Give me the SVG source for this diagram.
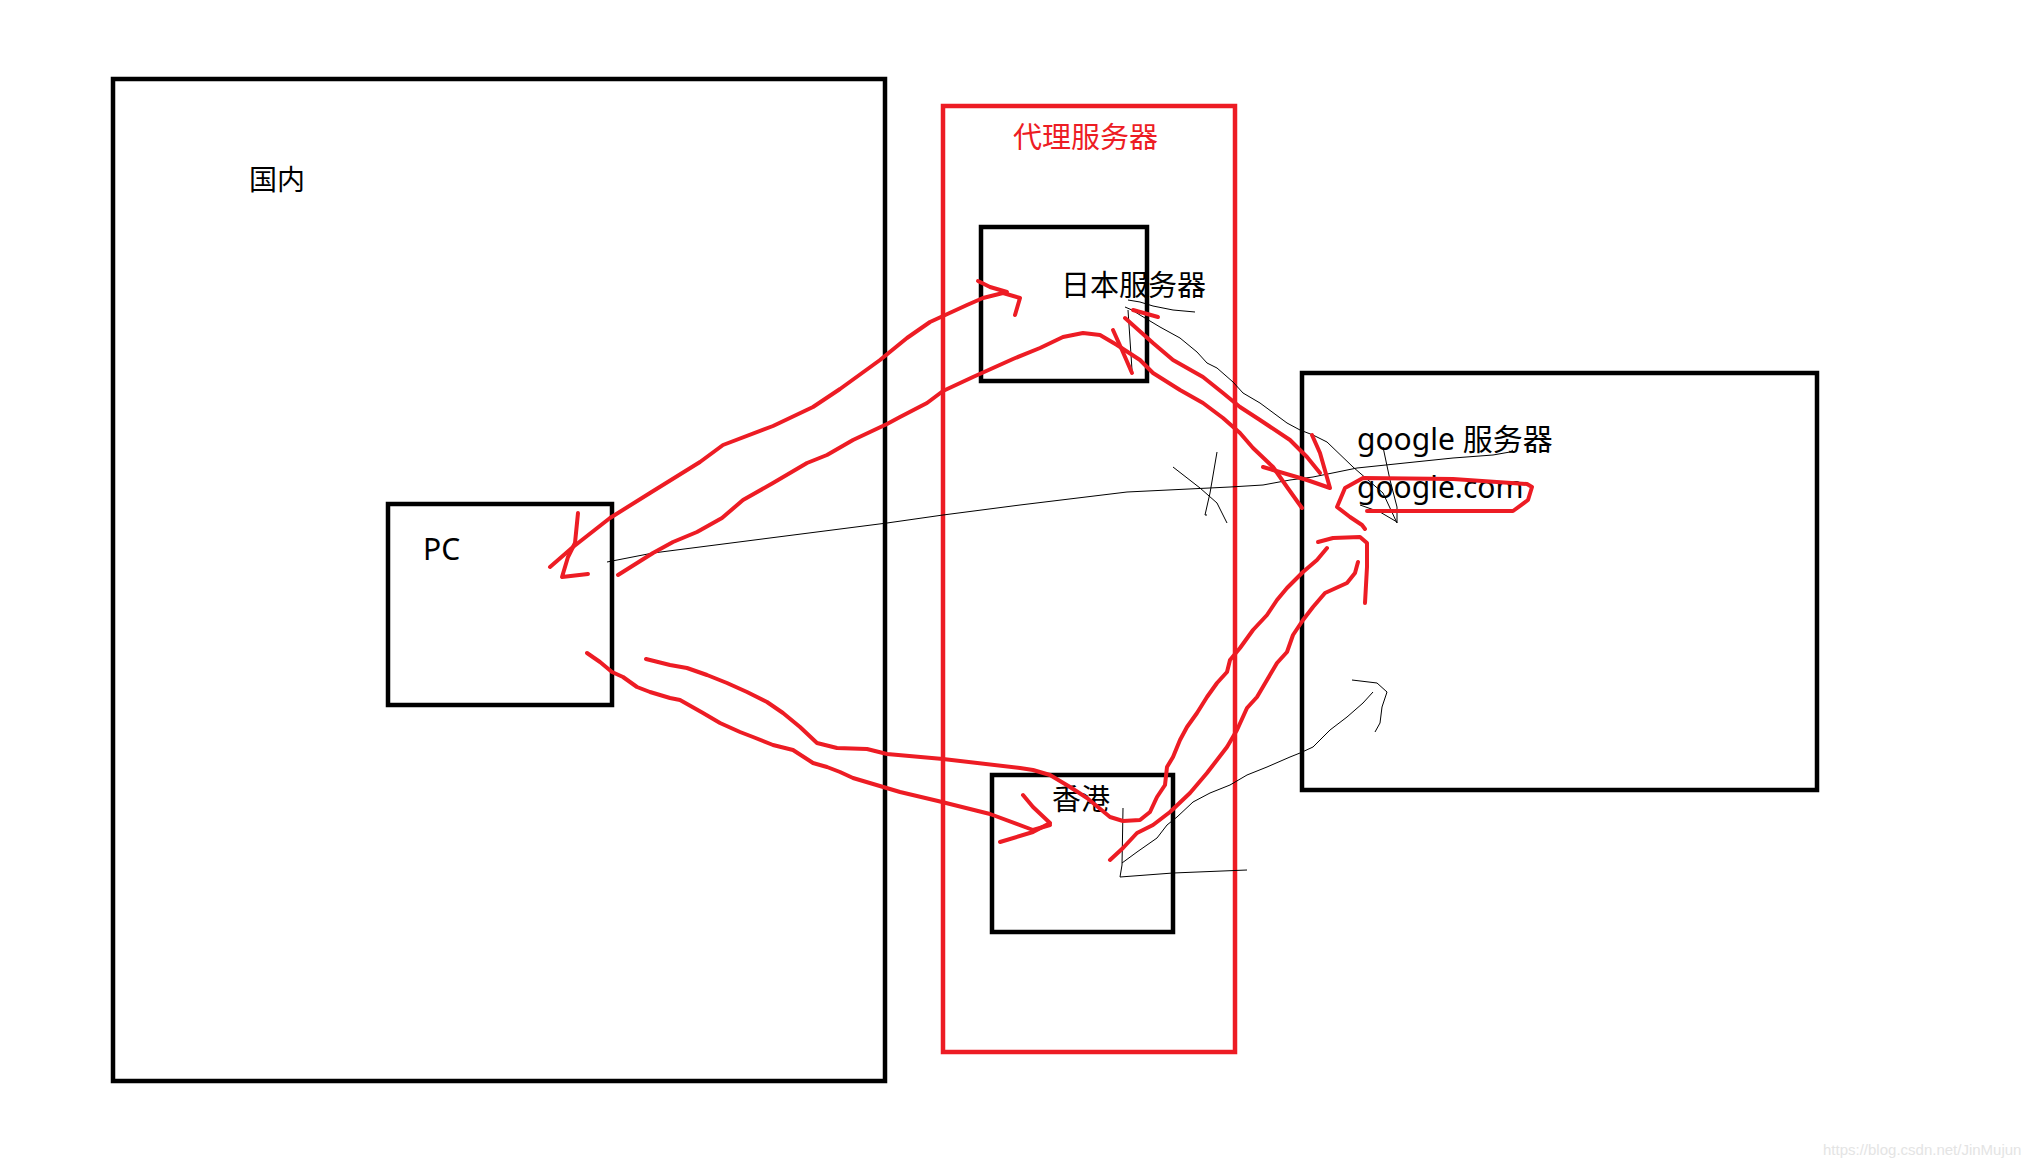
<svg xmlns="http://www.w3.org/2000/svg" width="2042" height="1166" viewBox="0 0 2042 1166">
<style>
.box{fill:none;stroke:#000;stroke-width:4.5}
.pbox{fill:none;stroke:#ED1C24;stroke-width:4.5}
.t{font-family:"Noto Sans","Noto Sans CJK SC",sans-serif;fill:#000}
.r{fill:none;stroke:#ED1C24;stroke-width:4;stroke-linejoin:round;stroke-linecap:round}
.k{fill:none;stroke:#000;stroke-width:1;stroke-linejoin:round}
</style>
<rect width="2042" height="1166" fill="#fff"/>
<g id="node-domestic">
<rect class="box" x="113" y="79" width="772" height="1002"/>
<text class="t" x="249" y="190" font-size="28">国内</text>
</g>
<g id="node-proxy">
<rect class="pbox" x="943" y="106" width="292" height="946"/>
<text class="t" x="1013" y="148" font-size="29" style="fill:#ED1C24">代理服务器</text>
</g>
<g id="node-japan">
<rect class="box" x="981" y="227" width="166" height="154"/>
<text class="t" x="1061" y="296" font-size="29">日本服务器</text>
</g>
<g id="node-hk">
<rect class="box" x="992" y="775" width="181" height="157"/>
<text class="t" x="1052" y="810" font-size="29">香港</text>
</g>
<g id="node-pc">
<rect class="box" x="388" y="504" width="224" height="201"/>
<text class="t" x="423" y="560" font-size="30">PC</text>
</g>
<g id="node-google">
<rect class="box" x="1302" y="373" width="515" height="417"/>
<text class="t" x="1357" y="450" font-size="30">google 服务器</text>
<text class="t" x="1357" y="498" font-size="30">google.com</text>
</g>
<g id="connectors">
<!-- thin pencil lines -->
<polyline class="k" points="607,562 653,553 887,523 943,515 1020,505 1127,492 1230,487 1263,485 1290,480 1313,477 1357,468 1453,458 1493,455 1510,452 1513,450"/>
<polyline class="k" points="1173,467 1200,488 1217,503 1227,523"/>
<polyline class="k" points="1217,452 1210,493 1205,515 1207,515"/>
<polyline class="k" points="1128,300 1140,302 1153,306 1173,310 1195,312"/>
<polyline class="k" points="1125,307 1132,310 1140,315 1160,327 1180,338 1197,352 1207,363 1217,368 1233,382 1243,393 1260,403 1287,423 1300,430 1313,435 1327,442 1353,467 1383,493 1397,523"/>
<polyline class="k" points="1128,310 1130,340 1132,370"/>
<polyline class="k" points="1383,447 1390,480 1397,507 1397,523"/>
<polyline class="k" points="1360,505 1380,512 1397,522"/>
<polyline class="k" points="1123,808 1122,865 1120,877 1173,873 1247,870"/>
<polyline class="k" points="1122,863 1137,852 1157,838 1167,825 1177,817 1193,802 1210,793 1230,785 1247,775 1267,767 1290,757 1300,753 1313,747 1330,730 1347,717 1363,703 1373,692"/>
<polyline class="k" points="1352,680 1377,683 1387,692 1382,707 1380,723 1375,732"/>
<!-- red marker strokes -->
<polyline class="r" points="550,567 573,547 610,518 650,493 700,462 723,445 773,426 813,407 840,389 880,360 907,338 930,322 967,305 983,298 1003,293 1020,298 1015,315"/>
<polyline class="r" points="978,281 990,287 1007,292"/>
<polyline class="r" points="578,513 575,543 568,557 562,577 588,574"/>
<polyline class="r" points="618,575 653,553 673,542 697,532 722,518 743,500 773,483 807,463 827,455 853,440 887,424 900,417 927,403 943,391 973,377 1013,359 1040,348 1063,337 1083,333 1100,335 1117,345 1140,360 1153,373 1180,390 1203,403 1223,418 1240,433 1253,448 1273,467 1287,487 1302,508"/>
<polyline class="r" points="1125,318 1153,343 1173,360 1203,377 1223,393 1240,407 1260,420 1290,440 1307,457 1320,473"/>
<polyline class="r" points="1263,467 1307,480 1330,488 1320,453 1312,435"/>
<polyline class="r" points="1133,310 1158,317"/>
<polyline class="r" points="1113,330 1122,350 1132,373"/>
<polyline class="r" points="1367,511 1513,511 1528,500 1532,487 1527,484 1453,479 1363,478 1345,488 1337,507 1350,517 1362,525 1365,529"/>
<polyline class="r" points="587,653 600,662 612,672 623,677 637,687 650,692 670,698 680,700 703,713 720,723 740,732 753,737 773,745 793,750 813,763 827,767 840,772 853,778 900,792 938,801 990,814 1033,830 1050,825"/>
<polyline class="r" points="1023,795 1033,807 1050,823 1033,832 1000,842"/>
<polyline class="r" points="646,659 670,665 687,668 707,675 727,683 747,692 767,702 783,713 800,727 817,743 837,748 867,749 887,754 943,759 1020,768 1033,770 1050,775 1070,787 1087,798 1110,817 1123,821 1140,820 1150,812 1157,797 1165,785 1167,767 1173,757 1180,740 1187,727 1197,713 1207,697 1217,683 1227,672 1230,660 1240,648 1253,630 1267,615 1277,600 1287,588 1303,572 1317,560 1327,548"/>
<polyline class="r" points="1318,542 1333,538 1360,537 1367,543 1367,567 1365,603"/>
<polyline class="r" points="1110,860 1123,848 1137,833 1153,825 1170,812 1190,793 1207,773 1227,747 1237,730 1247,708 1257,697 1267,680 1277,663 1287,652 1293,635 1303,620 1313,607 1325,593 1347,583 1355,573 1358,562"/>
</g>
<text x="1823" y="1155" font-family="Liberation Sans, sans-serif" font-size="15" fill="#e4e4e4">https://blog.csdn.net/JinMujun</text>
</svg>
